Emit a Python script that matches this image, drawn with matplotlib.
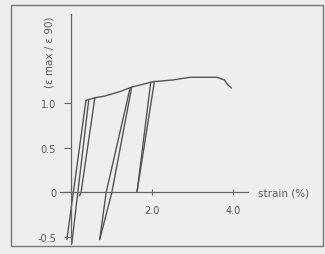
import matplotlib
matplotlib.use('Agg')
import matplotlib.pyplot as plt
from matplotlib.patches import Rectangle

# envelope (monotonic loading curve)
envelope_strain = [0.36, 0.43, 0.58, 0.83, 1.20, 1.49, 2.01, 2.50, 2.93, 3.59, 3.78, 3.85, 3.95]
envelope_ratio = [1.03, 1.04, 1.06, 1.08, 1.13, 1.18, 1.24, 1.26, 1.29, 1.29, 1.26, 1.21, 1.17]

# first cycle (three near-parallel branches)
cyc1a_strain = [-0.11, 0.36]
cyc1a_ratio = [-0.53, 1.03]
cyc1b_strain = [0.01, 0.43]
cyc1b_ratio = [-0.58, 1.04]
cyc1c_strain = [0.20, 0.24, 0.58]
cyc1c_ratio = [-0.04, 0.0, 1.06]

# second cycle
cyc2u_strain = [1.49, 1.00, 0.70]
cyc2u_ratio = [1.18, 0.0, -0.53]
cyc2r_strain = [0.70, 0.86, 1.45]
cyc2r_ratio = [-0.53, 0.0, 1.17]

# third cycle
cyc3u_strain = [2.05, 1.62]
cyc3u_ratio = [1.245, 0.0]
cyc3r_strain = [1.62, 1.96]
cyc3r_ratio = [0.0, 1.235]

ytick_vals = [-0.5, 0, 0.5, 1.0]
ytick_labels = ['-0.5', '0', '0.5', '1.0']
xtick_vals = [2.0, 4.0]
xtick_labels = ['2.0', '4.0']

bg = '#eceef0'
ink = '#555555'
axis_ink = '#666666'
text_ink = '#5a5a5a'

plt.rcParams['font.family'] = ['DejaVu Sans']

fig = plt.figure(figsize=(3.25, 2.55), dpi=100, facecolor=bg)
ax = fig.add_axes([60 / 325, 10 / 255, 188 / 325, 230 / 255])
ax.set_facecolor(bg)
ax.set_xlim(-0.28, 4.36)
ax.set_ylim(-0.58, 2.0)

segments = [
    (envelope_strain, envelope_ratio),
    (cyc1a_strain, cyc1a_ratio),
    (cyc1b_strain, cyc1b_ratio),
    (cyc1c_strain, cyc1c_ratio),
    (cyc2u_strain, cyc2u_ratio),
    (cyc2r_strain, cyc2r_ratio),
    (cyc3u_strain, cyc3u_ratio),
    (cyc3r_strain, cyc3r_ratio),
]
for sx, sy in segments:
    ax.plot(sx, sy, color=ink, lw=1.0, solid_capstyle='round')

for side in ['top', 'right']:
    ax.spines[side].set_visible(False)
ax.spines['left'].set_position(('data', 0))
ax.spines['bottom'].set_position(('data', 0))
for side in ['left', 'bottom']:
    ax.spines[side].set_color(axis_ink)
    ax.spines[side].set_linewidth(0.9)

ax.set_yticks(ytick_vals, ytick_labels)
ax.set_xticks(xtick_vals, xtick_labels)
ax.tick_params(axis='y', direction='out', length=5, width=0.8, pad=6,
               colors=axis_ink, labelcolor=text_ink, labelsize=7)
ax.tick_params(axis='x', direction='inout', length=5, width=0.8, pad=7,
               colors=axis_ink, labelcolor=text_ink, labelsize=7)

ax.text(4.6, 0, 'strain (%)', ha='left', va='center', fontsize=7.5,
        color=text_ink, clip_on=False)
ax.text(-0.53, 1.585, '(ε max / ε 90)', rotation=90, ha='center', va='center',
        fontsize=7.5, color=text_ink, clip_on=False)

fig.add_artist(Rectangle((11 / 325, 1 - 247 / 255), 312 / 325, 241 / 255,
                         transform=fig.transFigure, fill=False,
                         edgecolor='#777777', lw=1.0))

fig.savefig('out.png', dpi=100, facecolor=bg)
plt.close(fig)
